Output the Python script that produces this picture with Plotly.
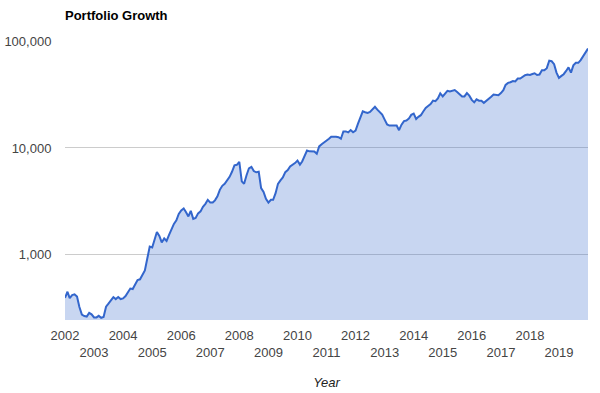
import plotly.graph_objects as go
import pandas as pd

# Monthly portfolio values, Jan 2002 .. Jan 2020
dates = pd.date_range("2002-01-01", "2020-01-01", freq="MS")

values = [
    397, 452, 394, 421, 427, 408, 325, 276, 268, 265, 287, 278,          # 2002
    260, 260, 269, 258, 262, 328, 350, 378, 403, 386, 403, 386,          # 2003
    392, 412, 449, 484, 479, 522, 582, 591, 644, 714, 929, 1194,         # 2004
    1173, 1424, 1639, 1503, 1307, 1424, 1350, 1536, 1730, 1948, 2101, 2417,  # 2005
    2607, 2722, 2523, 2290, 2579, 2170, 2217, 2443, 2551, 2811, 2999, 3269,  # 2006
    3084, 3084, 3234, 3526, 4057, 4422, 4617, 4926, 5370, 5984, 6883, 6958,  # 2007
    7424, 4874, 4617, 5548, 6452, 6665, 6076, 5920, 5984, 4209, 3886, 3341,  # 2008
    3084, 3269, 3269, 3779, 4617, 4980, 5290, 5943, 6205, 6708, 6928, 7217,  # 2009
    7619, 6989, 7472, 8504, 9454, 9292, 9273, 9273, 8822, 10330, 10830, 11190,  # 2010
    11730, 12200, 12730, 12810, 12730, 12590, 12200, 14280, 14280, 13970, 14710, 14030,  # 2011
    14560, 16860, 19400, 21980, 21560, 21280, 21700, 23050, 24230, 22800, 21650, 20470,  # 2012
    18380, 16580, 16180, 16250, 16330, 16220, 14650, 16500, 17830, 18060, 18780, 20380,  # 2013
    20920, 18660, 19520, 20250, 21930, 23650, 24640, 25720, 27690, 27330, 29030, 32340,  # 2014
    30320, 32620, 34210, 33690, 34210, 34800, 33400, 31720, 30320, 30320, 32550, 30840,  # 2015
    28170, 26690, 28480, 27690, 27690, 26400, 27390, 28600, 30050, 31510, 31440, 31110,  # 2016
    32550, 34720, 38860, 40570, 41190, 42270, 41810, 44510, 44510, 45980, 47910, 48530,  # 2017
    48220, 49160, 49910, 48110, 48530, 53250, 53360, 55720, 65520, 64670, 60750, 50660,  # 2018
    45190, 47180, 48940, 52440, 56690, 50660, 59180, 62470, 62470, 66220, 71890, 78380,  # 2019
    85060,                                                                # 2020
]

years = list(range(2002, 2020))
year_ticks = [pd.Timestamp(f"{y}-01-01") for y in years]
year_labels = [str(y) if y % 2 == 0 else "<br>" + str(y) for y in years]

y_tickvals = [1000, 10000, 100000]
y_ticktext = ["1,000", "10,000", "100,000"]

FONT = "Arial, Liberation Sans, sans-serif"

fig = go.Figure()
fig.add_trace(go.Scatter(
    x=dates, y=values, mode="lines",
    line=dict(color="#3366cc", width=2),
    fill="tozeroy", fillcolor="rgba(51,102,204,0.27)",
    name="Portfolio",
))

fig.update_layout(
    width=600, height=393,
    margin=dict(l=65, r=12, t=41, b=73),
    paper_bgcolor="white", plot_bgcolor="white",
    showlegend=False,
    font=dict(family=FONT, size=13, color="#444444"),
    title=dict(
        text="<b>Portfolio Growth</b>",
        font=dict(family=FONT, size=13, color="#000000"),
        x=0, xref="paper", xanchor="left",
        y=1 - 15 / 393, yref="container", yanchor="middle",
    ),
    xaxis=dict(
        type="date", automargin=False,
        range=[pd.Timestamp("2002-01-01"), pd.Timestamp("2020-01-01")],
        tickvals=year_ticks, ticktext=year_labels, tickangle=0,
        showgrid=False, zeroline=False, showline=False,
        ticks="outside", ticklen=3, tickcolor="rgba(0,0,0,0)",
        tickfont=dict(family=FONT, size=13, color="#444444"),
        title=dict(text="<i>Year</i>", font=dict(family=FONT, size=13, color="#222222"), standoff=19),
    ),
    yaxis=dict(
        type="log", automargin=False,
        range=[2.391, 5.0],
        tickvals=y_tickvals, ticktext=y_ticktext,
        showgrid=True, gridcolor="#cccccc", gridwidth=1,
        zeroline=False, showline=False,
        ticks="outside", ticklen=10, tickcolor="rgba(0,0,0,0)",
        tickfont=dict(family=FONT, size=13, color="#444444"),
    ),
)

fig.write_html("out.html", config={"displayModeBar": False},
               post_script="document.body.style.margin='0';")
